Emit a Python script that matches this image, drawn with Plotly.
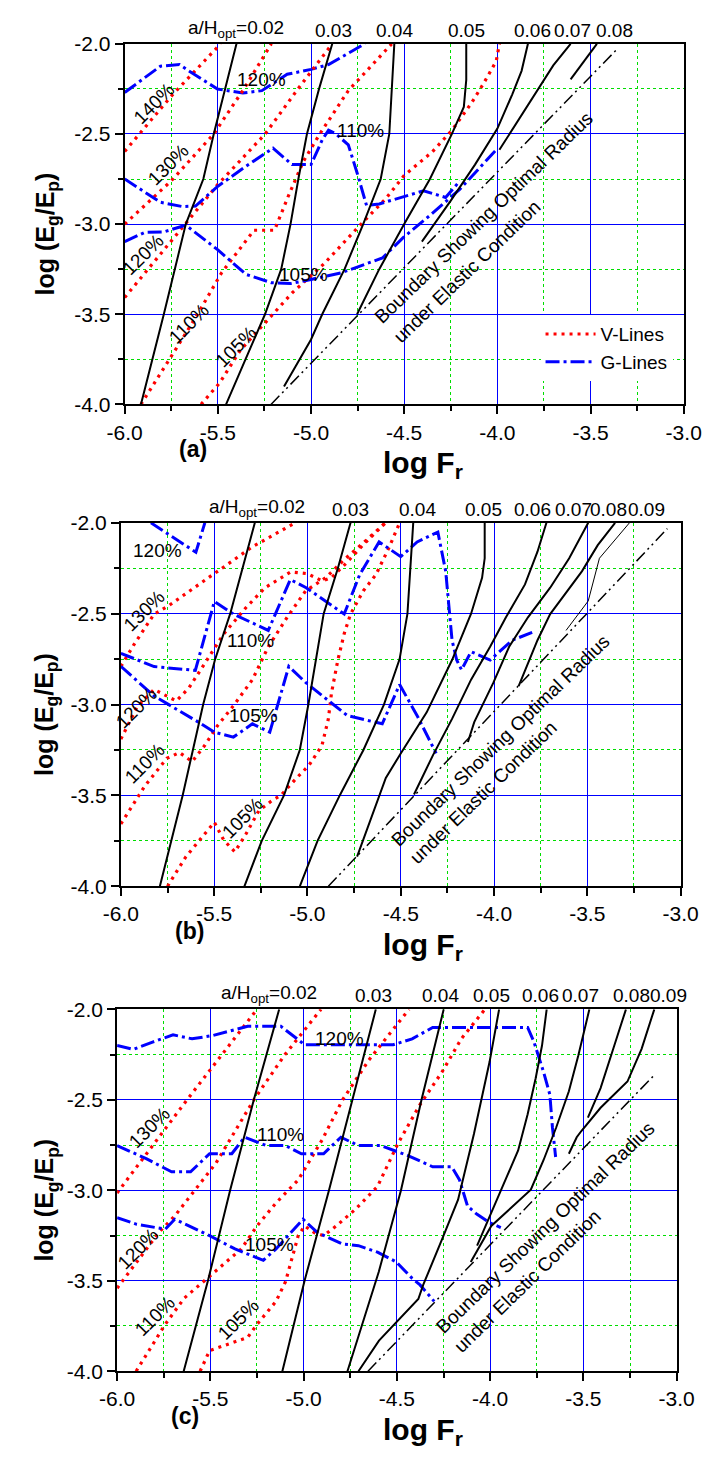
import plotly.graph_objects as go

# ---------------- tick labels ----------------
X_TICKS = [-6.0, -5.5, -5.0, -4.5, -4.0, -3.5, -3.0]
X_TICK_TEXT = ["-6.0", "-5.5", "-5.0", "-4.5", "-4.0", "-3.5", "-3.0"]
Y_TICKS = [-4.0, -3.5, -3.0, -2.5, -2.0]
Y_TICK_TEXT = ["-4.0", "-3.5", "-3.0", "-2.5", "-2.0"]

# ---------------- panel (a) ----------------
A_H002_X = [-5.913, -5.79, -5.672, -5.578, -5.522, -5.46, -5.40]
A_H002_Y = [-4.0, -3.5, -3.0, -2.75, -2.5, -2.25, -2.0]
A_H003_X = [-5.456, -5.35, -5.247, -5.16, -5.11, -5.068, -5.022, -4.957, -4.886]
A_H003_Y = [-4.0, -3.75, -3.5, -3.25, -3.0, -2.75, -2.5, -2.25, -2.0]
A_H004_X = [-5.145, -5.0, -4.94, -4.82, -4.72, -4.626, -4.58, -4.565, -4.553]
A_H004_Y = [-3.9, -3.64, -3.5, -3.25, -3.0, -2.75, -2.5, -2.25, -2.0]
A_H005_X = [-4.753, -4.634, -4.5, -4.362, -4.244, -4.18, -4.167, -4.167]
A_H005_Y = [-3.5, -3.25, -3.0, -2.75, -2.5, -2.35, -2.2, -2.0]
A_H006_X = [-4.405, -4.25, -4.12, -4.0, -3.92, -3.87, -3.836]
A_H006_Y = [-3.097, -2.87, -2.67, -2.47, -2.28, -2.15, -2.0]
A_H007_X = [-3.989, -3.89, -3.78, -3.70, -3.607]
A_H007_Y = [-2.588, -2.43, -2.25, -2.12, -2.0]
A_H008_X = [-3.607, -3.466]
A_H008_Y = [-2.197, -2.0]
A_BND_X = [-5.215, -3.352]
A_BND_Y = [-4.0, -2.024]

A_V140_X = [-6.0, -5.75, -5.485]
A_V140_Y = [-2.597, -2.29, -2.0]
A_V130_X = [-6.0, -5.75, -5.522, -5.36, -5.213]
A_V130_Y = [-3.0, -2.76, -2.5, -2.25, -2.0]
A_V120_X = [-6.0, -5.75, -5.5, -5.246, -5.07, -4.886]
A_V120_Y = [-3.407, -3.09, -2.78, -2.5, -2.25, -2.0]
A_V110_X = [-5.913, -5.78, -5.62, -5.48, -5.306, -5.196, -5.12, -5.04, -4.953, -4.80, -4.567]
A_V110_Y = [-4.0, -3.78, -3.52, -3.27, -3.034, -3.034, -2.84, -2.65, -2.5, -2.26, -2.0]
A_V105_X = [-5.59, -5.49, -5.38, -5.25, -5.1, -4.93, -4.75, -4.6, -4.5, -4.35, -4.244, -4.14, -4.074, -4.006, -3.989]
A_V105_Y = [-4.0, -3.88, -3.70, -3.55, -3.38, -3.22, -3.02, -2.86, -2.73, -2.6, -2.48, -2.33, -2.22, -2.096, -2.0]

A_G120_X = [-6.0, -5.808, -5.706, -5.655, -5.502, -5.366, -5.264, -5.128, -5.0, -4.906, -4.711]
A_G120_Y = [-2.27, -2.124, -2.115, -2.151, -2.251, -2.273, -2.26, -2.169, -2.142, -2.115, -2.0]
A_G110_X = [-6.0, -5.808, -5.689, -5.62, -5.50, -5.35, -5.204, -5.102, -5.0, -4.94, -4.906, -4.87,
            -4.80, -4.753, -4.702, -4.634, -4.396, -4.278, -4.201]
A_G110_Y = [-2.75, -2.879, -2.903, -2.9, -2.79, -2.68, -2.579, -2.67, -2.67, -2.533, -2.479, -2.497,
            -2.56, -2.715, -2.897, -2.888, -2.815, -2.852, -2.76]
A_G105_X = [-6.0, -5.893, -5.79, -5.672, -5.50, -5.349, -5.213, -5.11, -5.0, -4.838, -4.617, -4.5,
            -4.362, -4.201, -4.006]
A_G105_Y = [-3.097, -3.046, -3.043, -3.006, -3.143, -3.279, -3.325, -3.33, -3.307, -3.27, -3.188, -3.07,
            -2.952, -2.806, -2.588]

# ---------------- panel (b) ----------------
B_H002_X = [-5.791, -5.669, -5.559, -5.496, -5.414, -5.35, -5.282]
B_H002_Y = [-4.0, -3.5, -3.0, -2.755, -2.5, -2.25, -2.0]
B_H003_X = [-5.338, -5.245, -5.126, -5.041, -4.995, -4.955, -4.913, -4.837, -4.769]
B_H003_Y = [-4.0, -3.75, -3.5, -3.25, -3.0, -2.75, -2.5, -2.25, -2.0]
B_H004_X = [-5.041, -4.946, -4.827, -4.70, -4.59, -4.506, -4.464, -4.447, -4.433]
B_H004_Y = [-4.0, -3.75, -3.5, -3.25, -3.0, -2.75, -2.5, -2.25, -2.0]
B_H005_X = [-4.734, -4.62, -4.58, -4.5, -4.361, -4.225, -4.123, -4.064, -4.05, -4.05]
B_H005_Y = [-3.837, -3.51, -3.404, -3.269, -3.043, -2.755, -2.5, -2.303, -2.195, -2.0]
B_H006_X = [-4.429, -4.327, -4.225, -4.123, -4.021, -3.936, -3.834, -3.767, -3.719]
B_H006_Y = [-3.495, -3.278, -3.079, -2.863, -2.682, -2.52, -2.339, -2.159, -2.0]
B_H007_X = [-4.14, -4.106, -4.004, -3.919, -3.818, -3.699, -3.597, -3.495]
B_H007_Y = [-3.206, -3.097, -2.881, -2.682, -2.52, -2.357, -2.195, -2.0]
B_H008_X = [-3.868, -3.767, -3.699, -3.529, -3.444, -3.351]
B_H008_Y = [-2.899, -2.646, -2.502, -2.267, -2.123, -2.0]
B_H009_X = [-3.614, -3.495, -3.435, -3.274]
B_H009_Y = [-2.592, -2.43, -2.195, -2.0]
B_BND_X = [-4.888, -3.071]
B_BND_Y = [-4.0, -2.032]

B_V130_X = [-6.0, -5.93, -5.822, -5.745, -5.5, -5.295, -5.066]
B_V130_Y = [-2.79, -2.67, -2.502, -2.457, -2.28, -2.132, -2.0]
B_V120_X = [-6.0, -5.915, -5.822, -5.703, -5.635, -5.55, -5.448, -5.329, -5.227, -5.09, -5.0, -4.92,
            -4.87, -4.80, -4.70, -4.582]
B_V120_Y = [-3.19, -3.016, -2.917, -2.98, -2.908, -2.773, -2.61, -2.466, -2.357, -2.27, -2.28, -2.32,
            -2.30, -2.23, -2.12, -2.0]
B_V110_X = [-6.0, -5.873, -5.754, -5.686, -5.618, -5.55, -5.482, -5.397, -5.295, -5.21, -5.109, -5.01,
            -4.90, -4.80, -4.70, -4.582]
B_V110_Y = [-3.657, -3.45, -3.296, -3.264, -3.314, -3.224, -3.116, -3.007, -2.863, -2.682, -2.52, -2.375,
            -2.30, -2.2, -2.11, -2.0]
B_V105_X = [-5.75, -5.652, -5.55, -5.499, -5.448, -5.389, -5.329, -5.261, -5.194, -5.143, -5.058, -4.99,
            -4.922, -4.888, -4.871, -4.837, -4.803, -4.769, -4.701, -4.633, -4.565, -4.506]
B_V105_Y = [-4.0, -3.838, -3.711, -3.648, -3.747, -3.81, -3.711, -3.585, -3.531, -3.5, -3.404, -3.332,
            -3.224, -3.079, -2.935, -2.755, -2.61, -2.502, -2.375, -2.285, -2.141, -2.0]

B_G120_X = [-5.839, -5.635, -5.598, -5.55]
B_G120_Y = [-2.0, -2.141, -2.162, -2.0]
B_G110_X = [-6.0, -5.822, -5.601, -5.499, -5.397, -5.21, -5.092, -5.007, -4.803, -4.72, -4.616, -4.5,
            -4.412, -4.301, -4.259, -4.225, -4.2, -4.174, -4.123, -4.021, -3.902, -3.792]
B_G110_Y = [-2.718, -2.791, -2.812, -2.433, -2.502, -2.592, -2.312, -2.357, -2.502, -2.285, -2.105, -2.186,
            -2.105, -2.051, -2.267, -2.646, -2.755, -2.809, -2.709, -2.755, -2.646, -2.601]
B_G105_X = [-6.0, -5.822, -5.584, -5.499, -5.397, -5.295, -5.202, -5.1, -5.007, -4.854, -4.786, -4.599,
            -4.506, -4.412, -4.31]
B_G105_Y = [-2.79, -2.953, -3.097, -3.152, -3.179, -3.106, -3.152, -2.79, -2.881, -3.007, -3.061, -3.106,
            -2.89, -3.061, -3.269]

# ---------------- panel (c) ----------------
C_H002_X = [-5.643, -5.513, -5.394, -5.267, -5.131]
C_H002_Y = [-4.0, -3.5, -3.0, -2.5, -2.0]
C_H003_X = [-5.114, -4.995, -4.864, -4.74, -4.613]
C_H003_Y = [-4.0, -3.5, -3.0, -2.5, -2.0]
C_H004_X = [-4.765, -4.68, -4.597, -4.478, -4.368, -4.249]
C_H004_Y = [-4.0, -3.72, -3.45, -3.0, -2.5, -2.0]
C_H005_X = [-4.706, -4.596, -4.385, -4.359, -4.257, -4.172, -4.087, -4.003, -3.952]
C_H005_Y = [-4.0, -3.831, -3.601, -3.523, -3.269, -3.052, -2.689, -2.29, -2.0]
C_H006_X = [-4.07, -3.986, -3.918, -3.85, -3.799, -3.756, -3.722, -3.697]
C_H006_Y = [-3.306, -3.106, -2.943, -2.78, -2.58, -2.381, -2.2, -2.0]
C_H007_X = [-4.104, -3.994, -3.782, -3.714, -3.646, -3.578, -3.527, -3.468]
C_H007_Y = [-3.396, -3.197, -2.997, -2.834, -2.653, -2.453, -2.254, -2.0]
C_H008_X = [-3.476, -3.408, -3.34, -3.272]
C_H008_Y = [-2.598, -2.435, -2.218, -2.0]
C_H009_X = [-3.578, -3.536, -3.51, -3.408, -3.264, -3.188, -3.12]
C_H009_Y = [-2.798, -2.707, -2.671, -2.544, -2.399, -2.218, -2.0]
C_BND_X = [-4.655, -3.12]
C_BND_Y = [-4.0, -2.363]

C_V130_X = [-6.0, -5.625, -5.25]
C_V130_Y = [-3.015, -2.5, -2.0]
C_V120_X = [-6.0, -5.776, -5.691, -5.47, -5.267, -5.1, -4.907]
C_V120_Y = [-3.541, -3.233, -3.142, -2.85, -2.5, -2.25, -2.0]
C_V110_X = [-5.898, -5.81, -5.742, -5.64, -5.538, -5.436, -5.334, -5.25, -5.148, -5.029, -4.9, -4.791,
            -4.65, -4.435]
C_V110_Y = [-4.0, -3.85, -3.741, -3.596, -3.505, -3.414, -3.324, -3.197, -3.07, -2.943, -2.72, -2.5,
            -2.28, -2.0]
C_V105_X = [-5.555, -5.504, -5.3, -5.25, -5.148, -5.097, -5.063, -5.029, -4.995, -4.944, -4.893, -4.825,
            -4.723, -4.604, -4.495, -4.376, -4.257, -4.155, -4.028]
C_V105_Y = [-4.0, -3.886, -3.813, -3.741, -3.614, -3.505, -3.378, -3.251, -3.197, -3.233, -3.251, -3.197,
            -3.106, -2.979, -2.743, -2.526, -2.345, -2.163, -2.0]

C_G120_X = [-6.0, -5.912, -5.81, -5.7, -5.598, -5.487, -5.3, -5.122, -5.046, -4.995, -4.825, -4.52,
            -4.418, -4.308, -3.799, -3.765, -3.714, -3.68, -3.666, -3.649]
C_G120_Y = [-2.2, -2.221, -2.181, -2.141, -2.163, -2.145, -2.094, -2.094, -2.154, -2.196, -2.196, -2.196,
            -2.163, -2.1, -2.1, -2.181, -2.345, -2.471, -2.653, -2.816]
C_G110_X = [-6.0, -5.844, -5.708, -5.606, -5.504, -5.385, -5.317, -5.199, -5.097, -5.012, -4.893, -4.8,
            -4.706, -4.587, -4.444, -4.308, -4.206, -4.164, -4.121, -4.07, -4.003, -3.943]
C_G110_Y = [-2.753, -2.825, -2.898, -2.898, -2.798, -2.798, -2.707, -2.753, -2.753, -2.798, -2.798, -2.707,
            -2.753, -2.753, -2.807, -2.87, -2.87, -2.943, -3.088, -3.133, -3.179, -3.206]
C_G105_X = [-6.0, -5.895, -5.742, -5.691, -5.504, -5.368, -5.216, -5.148, -5.003, -4.927, -4.791, -4.706,
            -4.604, -4.503, -4.418, -4.376, -4.3]
C_G105_Y = [-3.151, -3.188, -3.215, -3.16, -3.251, -3.324, -3.387, -3.324, -3.16, -3.233, -3.297, -3.306,
            -3.342, -3.396, -3.487, -3.523, -3.614]

# ---------------- text labels ----------------
A_TOP_LABELS = ["a/H<sub>opt</sub>=0.02", "0.03", "0.04", "0.05", "0.06", "0.07", "0.08"]
A_TOP_X = [-5.40, -4.88, -4.55, -4.166, -3.81, -3.595, -3.372]
B_TOP_LABELS = ["a/H<sub>opt</sub>=0.02", "0.03", "0.04", "0.05", "0.06", "0.07", "0.08", "0.09"]
B_TOP_X = [-5.268, -4.77, -4.408, -4.057, -3.795, -3.573, -3.385, -3.18]
C_TOP_LABELS = ["a/H<sub>opt</sub>=0.02", "0.03", "0.04", "0.05", "0.06", "0.07", "0.08", "0.09"]
C_TOP_X = [-5.185, -4.628, -4.264, -3.994, -3.729, -3.514, -3.244, -3.045]

A_VLAB = ["140%", "130%", "120%", "110%", "105%"]
A_VLAB_X = [-5.842, -5.765, -5.90, -5.655, -5.40]
A_VLAB_Y = [-2.333, -2.67, -3.17, -3.55, -3.68]
A_GLAB = ["120%", "110%", "105%"]
A_GLAB_X = [-5.264, -4.736, -5.043]
A_GLAB_Y = [-2.2, -2.479, -3.28]

B_VLAB = ["130%", "120%", "110%", "105%"]
B_VLAB_X = [-5.873, -5.915, -5.873, -5.346]
B_VLAB_Y = [-2.484, -3.016, -3.323, -3.621]
B_GLAB = ["120%", "110%", "105%"]
B_GLAB_X = [-5.805, -5.304, -5.287]
B_GLAB_Y = [-2.15, -2.646, -3.061]

C_VLAB = ["130%", "120%", "110%", "105%"]
C_VLAB_X = [-5.827, -5.886, -5.801, -5.351]
C_VLAB_Y = [-2.653, -3.324, -3.695, -3.713]
C_GLAB = ["120%", "110%", "105%"]
C_GLAB_X = [-4.808, -5.122, -5.182]
C_GLAB_Y = [-2.163, -2.689, -3.297]

BND_LINE1 = "Boundary Showing Optimal Radius"
BND_LINE2 = "under Elastic Condition"
BND1_X = [-4.074, -3.966, -3.704]
BND1_Y = [-2.961, -3.197, -3.206]
BND2_X = [-4.164, -4.057, -3.802]
BND2_Y = [-3.261, -3.486, -3.505]
PANEL_TAGS = ["(a)", "(b)", "(c)"]

# ---------------- layout geometry (pixels) ----------------
W, H = 721, 1459
BOX = [(112.3, 700.7, 32.3, 398.7), (108.3, 697.4, 519.0, 888.3), (104.3, 693.3, 1013.3, 1381.0)]
FONT = "Liberation Sans, Arial, sans-serif"

fig = go.Figure()

STYLE = {
    "H": dict(color="black", width=2, dash="solid"),
    "T": dict(color="black", width=1, dash="solid"),
    "B": dict(color="black", width=1.5, dash="12px,4px,2px,4px,2px,4px"),
    "V": dict(color="#ff0000", width=3.2, dash="3px,5px"),
    "G": dict(color="#0000ff", width=3, dash="14px,4px,3px,4px"),
}

legend_done = {"V": False, "G": False}


def add(p, xs, ys, kind):
    xa = "x" if p == 0 else "x%d" % (p + 1)
    ya = "y" if p == 0 else "y%d" % (p + 1)
    show = False
    name = None
    if kind in ("V", "G") and not legend_done[kind]:
        show = True
        legend_done[kind] = True
        name = "V-Lines" if kind == "V" else "G-Lines"
    fig.add_trace(go.Scatter(x=xs, y=ys, mode="lines", line=STYLE[kind], xaxis=xa, yaxis=ya,
                             showlegend=show, name=name, hoverinfo="skip",
                             legendrank=1 if kind == "V" else 2))


PANEL_LINES = [
    [(A_V140_X, A_V140_Y, "V"), (A_G120_X, A_G120_Y, "G"), (A_V130_X, A_V130_Y, "V"), (A_V120_X, A_V120_Y, "V"),
     (A_V110_X, A_V110_Y, "V"), (A_V105_X, A_V105_Y, "V"), (A_G110_X, A_G110_Y, "G"), (A_G105_X, A_G105_Y, "G"),
     (A_H002_X, A_H002_Y, "H"), (A_H003_X, A_H003_Y, "H"), (A_H004_X, A_H004_Y, "H"), (A_H005_X, A_H005_Y, "H"),
     (A_H006_X, A_H006_Y, "H"), (A_H007_X, A_H007_Y, "H"), (A_H008_X, A_H008_Y, "H"), (A_BND_X, A_BND_Y, "B")],
    [(B_V130_X, B_V130_Y, "V"), (B_V120_X, B_V120_Y, "V"), (B_V110_X, B_V110_Y, "V"), (B_V105_X, B_V105_Y, "V"),
     (B_G120_X, B_G120_Y, "G"), (B_G110_X, B_G110_Y, "G"), (B_G105_X, B_G105_Y, "G"),
     (B_H002_X, B_H002_Y, "H"), (B_H003_X, B_H003_Y, "H"), (B_H004_X, B_H004_Y, "H"), (B_H005_X, B_H005_Y, "H"),
     (B_H006_X, B_H006_Y, "H"), (B_H007_X, B_H007_Y, "H"), (B_H008_X, B_H008_Y, "H"), (B_H009_X, B_H009_Y, "T"),
     (B_BND_X, B_BND_Y, "B")],
    [(C_V130_X, C_V130_Y, "V"), (C_V120_X, C_V120_Y, "V"), (C_V110_X, C_V110_Y, "V"), (C_V105_X, C_V105_Y, "V"),
     (C_G120_X, C_G120_Y, "G"), (C_G110_X, C_G110_Y, "G"), (C_G105_X, C_G105_Y, "G"),
     (C_H002_X, C_H002_Y, "H"), (C_H003_X, C_H003_Y, "H"), (C_H004_X, C_H004_Y, "H"), (C_H005_X, C_H005_Y, "H"),
     (C_H006_X, C_H006_Y, "H"), (C_H007_X, C_H007_Y, "H"), (C_H008_X, C_H008_Y, "H"), (C_H009_X, C_H009_Y, "H"),
     (C_BND_X, C_BND_Y, "B")],
]

for p, lines in enumerate(PANEL_LINES):
    for xs, ys, kind in lines:
        add(p, xs, ys, kind)

layout = dict(width=W, height=H, margin=dict(l=0, r=0, t=0, b=0), paper_bgcolor="white",
              plot_bgcolor="white", font=dict(family=FONT, size=19, color="black"),
              showlegend=True,
              legend=dict(x=550 / W, y=1 - 308 / H, xanchor="left", yanchor="top", bgcolor="white",
                          borderwidth=0, font=dict(size=19, family=FONT), itemwidth=50, tracegroupgap=2))

annotations = []
for p, (l, r, t, b) in enumerate(BOX):
    sfx = "" if p == 0 else str(p + 1)
    common = dict(showline=True, linecolor="black", linewidth=2, mirror=True, zeroline=False,
                  showgrid=True, gridcolor="#0000ff", gridwidth=1, ticks="outside", ticklen=8,
                  tickwidth=1.5, tickcolor="black", tickfont=dict(family=FONT, size=21, color="black"))
    layout["xaxis" + sfx] = dict(common, domain=[l / W, r / W], range=[-6, -3], anchor="y" + sfx,
                                 tickmode="array", tickvals=X_TICKS, ticktext=X_TICK_TEXT,
                                 minor=dict(tickmode="linear", tick0=-6, dtick=0.25, showgrid=True,
                                            gridcolor="#00dd00", griddash="dot", gridwidth=1,
                                            ticks="outside", ticklen=5, tickcolor="black", tickwidth=1.5))
    layout["yaxis" + sfx] = dict(common, domain=[1 - b / H, 1 - t / H], range=[-4, -2], anchor="x" + sfx,
                                 tickmode="array", tickvals=Y_TICKS, ticktext=Y_TICK_TEXT,
                                 minor=dict(tickmode="linear", tick0=-4, dtick=0.25, showgrid=True,
                                            gridcolor="#00dd00", griddash="dot", gridwidth=1,
                                            ticks="outside", ticklen=5, tickcolor="black", tickwidth=1.5))
    annotations.append(dict(text="<b>log F<sub>r</sub></b>", xref="paper", yref="paper", x=426 / W,
                            y=1 - (b + 61) / H, xanchor="center", yanchor="middle", showarrow=False,
                            font=dict(size=30, family=FONT)))
    annotations.append(dict(text="<b>" + PANEL_TAGS[p] + "</b>", xref="paper", yref="paper", x=(l + 72) / W,
                            y=1 - (b + 45) / H, xanchor="center", yanchor="middle", showarrow=False,
                            font=dict(size=23, family=FONT)))
    annotations.append(dict(text="<b>log (E<sub>g</sub>/E<sub>p</sub>)</b>", xref="paper", yref="paper",
                            x=30 / W, y=1 - ((t + b) / 2 + 10) / H, xanchor="center", yanchor="middle",
                            showarrow=False, textangle=-90, font=dict(size=25, family=FONT)))

TOPS = [(A_TOP_LABELS, A_TOP_X), (B_TOP_LABELS, B_TOP_X), (C_TOP_LABELS, C_TOP_X)]
VLABS = [(A_VLAB, A_VLAB_X, A_VLAB_Y), (B_VLAB, B_VLAB_X, B_VLAB_Y), (C_VLAB, C_VLAB_X, C_VLAB_Y)]
GLABS = [(A_GLAB, A_GLAB_X, A_GLAB_Y), (B_GLAB, B_GLAB_X, B_GLAB_Y), (C_GLAB, C_GLAB_X, C_GLAB_Y)]

for p in range(3):
    sfx = "" if p == 0 else str(p + 1)
    xr, yr = "x" + sfx, "y" + sfx
    labs, xs = TOPS[p]
    for txt, x in zip(labs, xs):
        annotations.append(dict(text=txt, x=x, y=-2.0, xref=xr, yref=yr, xanchor="center", yanchor="bottom",
                                yshift=1, showarrow=False, font=dict(size=19, family=FONT)))
    labs, xs, ys = VLABS[p]
    for txt, x, y in zip(labs, xs, ys):
        annotations.append(dict(text=txt, x=x, y=y, xref=xr, yref=yr, showarrow=False, textangle=-45,
                                font=dict(size=19, family=FONT)))
    labs, xs, ys = GLABS[p]
    for txt, x, y in zip(labs, xs, ys):
        annotations.append(dict(text=txt, x=x, y=y, xref=xr, yref=yr, showarrow=False,
                                font=dict(size=19, family=FONT)))
    annotations.append(dict(text=BND_LINE1, x=BND1_X[p], y=BND1_Y[p], xref=xr, yref=yr, showarrow=False,
                            textangle=-44, font=dict(size=19, family=FONT)))
    annotations.append(dict(text=BND_LINE2, x=BND2_X[p], y=BND2_Y[p], xref=xr, yref=yr, showarrow=False,
                            textangle=-44, font=dict(size=19, family=FONT)))

layout["annotations"] = annotations
fig.update_layout(**layout)
fig.write_html("out.html")
